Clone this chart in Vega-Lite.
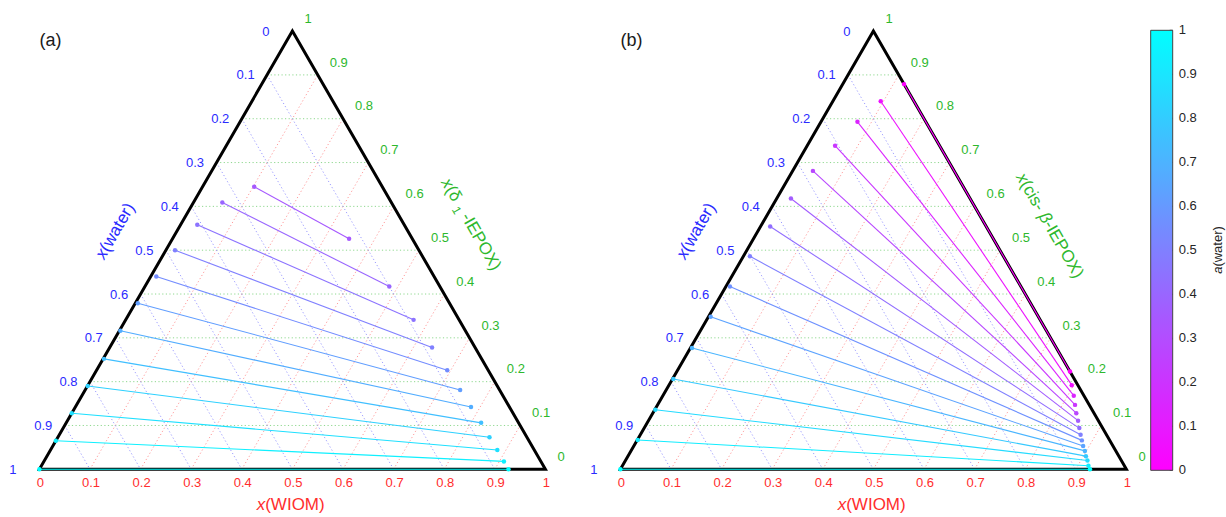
{
  "$schema": "https://vega.github.io/schema/vega-lite/v6.json",
  "width": 1226,
  "height": 517,
  "autosize": "none",
  "padding": 0,
  "background": "white",
  "config": {"view": {"stroke": null}, "text": {"font": "Liberation Sans"}},
  "resolve": {"legend": {"color": "independent"}},
  "datasets": {
    "ticks": [
      {"panel": "a", "k": 0}, {"panel": "a", "k": 0.1}, {"panel": "a", "k": 0.2}, {"panel": "a", "k": 0.3}, {"panel": "a", "k": 0.4}, {"panel": "a", "k": 0.5},
      {"panel": "a", "k": 0.6}, {"panel": "a", "k": 0.7}, {"panel": "a", "k": 0.8}, {"panel": "a", "k": 0.9}, {"panel": "a", "k": 1},
      {"panel": "b", "k": 0}, {"panel": "b", "k": 0.1}, {"panel": "b", "k": 0.2}, {"panel": "b", "k": 0.3}, {"panel": "b", "k": 0.4}, {"panel": "b", "k": 0.5},
      {"panel": "b", "k": 0.6}, {"panel": "b", "k": 0.7}, {"panel": "b", "k": 0.8}, {"panel": "b", "k": 0.9}, {"panel": "b", "k": 1}
    ],
    "panels": [{"panel": "a", "name": "(a)"}, {"panel": "b", "name": "(b)"}],
    "frame": [
      {"panel": "a", "o": 1, "wiom": 0, "epox": 0}, {"panel": "a", "o": 2, "wiom": 0, "epox": 1}, {"panel": "a", "o": 3, "wiom": 1, "epox": 0},
      {"panel": "a", "o": 4, "wiom": 0, "epox": 0}, {"panel": "a", "o": 5, "wiom": 0, "epox": 1},
      {"panel": "b", "o": 1, "wiom": 0, "epox": 0}, {"panel": "b", "o": 2, "wiom": 0, "epox": 1}, {"panel": "b", "o": 3, "wiom": 1, "epox": 0},
      {"panel": "b", "o": 4, "wiom": 0, "epox": 0}, {"panel": "b", "o": 5, "wiom": 0, "epox": 1}
    ],
    "ties": [
      {"panel": "a", "line": 1, "aw": 0.35, "wiom": 0.102, "epox": 0.645}, {"panel": "a", "line": 1, "aw": 0.35, "wiom": 0.349, "epox": 0.526},
      {"panel": "a", "line": 2, "aw": 0.4, "wiom": 0.057, "epox": 0.609}, {"panel": "a", "line": 2, "aw": 0.4, "wiom": 0.483, "epox": 0.417},
      {"panel": "a", "line": 3, "aw": 0.45, "wiom": 0.033, "epox": 0.558}, {"panel": "a", "line": 3, "aw": 0.45, "wiom": 0.569, "epox": 0.341},
      {"panel": "a", "line": 4, "aw": 0.5, "wiom": 0.018, "epox": 0.5}, {"panel": "a", "line": 4, "aw": 0.5, "wiom": 0.637, "epox": 0.278},
      {"panel": "a", "line": 5, "aw": 0.55, "wiom": 0.011, "epox": 0.44}, {"panel": "a", "line": 5, "aw": 0.55, "wiom": 0.693, "epox": 0.226},
      {"panel": "a", "line": 6, "aw": 0.62, "wiom": 0.005, "epox": 0.379}, {"panel": "a", "line": 6, "aw": 0.62, "wiom": 0.741, "epox": 0.181},
      {"panel": "a", "line": 7, "aw": 0.68, "wiom": 0.002, "epox": 0.316}, {"panel": "a", "line": 7, "aw": 0.68, "wiom": 0.782, "epox": 0.142},
      {"panel": "a", "line": 8, "aw": 0.75, "wiom": 0.0015, "epox": 0.252}, {"panel": "a", "line": 8, "aw": 0.75, "wiom": 0.82, "epox": 0.106},
      {"panel": "a", "line": 9, "aw": 0.82, "wiom": 0.0005, "epox": 0.19}, {"panel": "a", "line": 9, "aw": 0.82, "wiom": 0.853, "epox": 0.073},
      {"panel": "a", "line": 10, "aw": 0.88, "wiom": 0, "epox": 0.128}, {"panel": "a", "line": 10, "aw": 0.88, "wiom": 0.883, "epox": 0.044},
      {"panel": "a", "line": 11, "aw": 0.94, "wiom": 0, "epox": 0.065}, {"panel": "a", "line": 11, "aw": 0.94, "wiom": 0.909, "epox": 0.018},
      {"panel": "a", "line": 12, "aw": 1, "wiom": 0, "epox": 0}, {"panel": "a", "line": 12, "aw": 1, "wiom": 0.927, "epox": 0},
      {"panel": "b", "line": 1, "aw": 0, "wiom": 0.121, "epox": 0.879}, {"panel": "b", "line": 1, "aw": 0, "wiom": 0.777, "epox": 0.223},
      {"panel": "b", "line": 2, "aw": 0.07, "wiom": 0.0945, "epox": 0.84}, {"panel": "b", "line": 2, "aw": 0.07, "wiom": 0.796, "epox": 0.192},
      {"panel": "b", "line": 3, "aw": 0.14, "wiom": 0.072, "epox": 0.793}, {"panel": "b", "line": 3, "aw": 0.14, "wiom": 0.812, "epox": 0.168},
      {"panel": "b", "line": 4, "aw": 0.21, "wiom": 0.055, "epox": 0.7385}, {"panel": "b", "line": 4, "aw": 0.21, "wiom": 0.825, "epox": 0.147},
      {"panel": "b", "line": 5, "aw": 0.28, "wiom": 0.04, "epox": 0.681}, {"panel": "b", "line": 5, "aw": 0.28, "wiom": 0.837, "epox": 0.128},
      {"panel": "b", "line": 6, "aw": 0.36, "wiom": 0.028, "epox": 0.618}, {"panel": "b", "line": 6, "aw": 0.36, "wiom": 0.849, "epox": 0.111},
      {"panel": "b", "line": 7, "aw": 0.43, "wiom": 0.019, "epox": 0.554}, {"panel": "b", "line": 7, "aw": 0.43, "wiom": 0.86, "epox": 0.094},
      {"panel": "b", "line": 8, "aw": 0.5, "wiom": 0.013, "epox": 0.486}, {"panel": "b", "line": 8, "aw": 0.5, "wiom": 0.87, "epox": 0.079},
      {"panel": "b", "line": 9, "aw": 0.57, "wiom": 0.008, "epox": 0.417}, {"panel": "b", "line": 9, "aw": 0.57, "wiom": 0.879, "epox": 0.066},
      {"panel": "b", "line": 10, "aw": 0.64, "wiom": 0.0044, "epox": 0.348}, {"panel": "b", "line": 10, "aw": 0.64, "wiom": 0.888, "epox": 0.053},
      {"panel": "b", "line": 11, "aw": 0.71, "wiom": 0.003, "epox": 0.277}, {"panel": "b", "line": 11, "aw": 0.71, "wiom": 0.897, "epox": 0.042},
      {"panel": "b", "line": 12, "aw": 0.79, "wiom": 0.0015, "epox": 0.206}, {"panel": "b", "line": 12, "aw": 0.79, "wiom": 0.905, "epox": 0.03},
      {"panel": "b", "line": 13, "aw": 0.86, "wiom": 0.001, "epox": 0.136}, {"panel": "b", "line": 13, "aw": 0.86, "wiom": 0.913, "epox": 0.02},
      {"panel": "b", "line": 14, "aw": 0.93, "wiom": 0.0008, "epox": 0.067}, {"panel": "b", "line": 14, "aw": 0.93, "wiom": 0.921, "epox": 0.008},
      {"panel": "b", "line": 15, "aw": 1, "wiom": 0, "epox": 0}, {"panel": "b", "line": 15, "aw": 1, "wiom": 0.928, "epox": 0}
    ]
  },
  "encoding": {
    "x": {"field": "X", "type": "quantitative", "scale": {"domain": [-0.077866, 2.345059], "nice": false, "zero": false}, "axis": null},
    "y": {"field": "Y", "type": "quantitative", "scale": {"domain": [-0.094269, 0.92747], "nice": false, "zero": false}, "axis": null}
  },
  "layer": [
    {
      "data": {"name": "ticks"},
      "transform": [
        {"filter": "datum.k > 0 && datum.k < 1"},
        {"calculate": "datum.panel === 'b' ? 1.14822 : 0", "as": "off"},
        {"calculate": "datum.off + datum.k / 2", "as": "X"},
        {"calculate": "datum.off + 1 - datum.k / 2", "as": "X2"},
        {"calculate": "datum.k * 0.8660254", "as": "Y"}
      ],
      "mark": {"type": "rule", "stroke": "#8fd88f", "strokeWidth": 1, "strokeDash": [1.2, 2.4]},
      "encoding": {"x2": {"field": "X2"}, "y2": {"field": "Y"}}
    },
    {
      "data": {"name": "ticks"},
      "transform": [
        {"filter": "datum.k > 0 && datum.k < 1"},
        {"calculate": "datum.panel === 'b' ? 1.14822 : 0", "as": "off"},
        {"calculate": "datum.off + datum.k", "as": "X"},
        {"calculate": "0", "as": "Y"},
        {"calculate": "datum.off + datum.k + (1 - datum.k) / 2", "as": "X2"},
        {"calculate": "(1 - datum.k) * 0.8660254", "as": "Y2"}
      ],
      "mark": {"type": "rule", "stroke": "#ff9c9c", "strokeWidth": 1, "strokeDash": [1.2, 2.4]},
      "encoding": {"x2": {"field": "X2"}, "y2": {"field": "Y2"}}
    },
    {
      "data": {"name": "ticks"},
      "transform": [
        {"filter": "datum.k > 0 && datum.k < 1"},
        {"calculate": "datum.panel === 'b' ? 1.14822 : 0", "as": "off"},
        {"calculate": "datum.off + (1 - datum.k) / 2", "as": "X"},
        {"calculate": "(1 - datum.k) * 0.8660254", "as": "Y"},
        {"calculate": "datum.off + 1 - datum.k", "as": "X2"},
        {"calculate": "0", "as": "Y2"}
      ],
      "mark": {"type": "rule", "stroke": "#9c9cff", "strokeWidth": 1, "strokeDash": [1.2, 2.4]},
      "encoding": {"x2": {"field": "X2"}, "y2": {"field": "Y2"}}
    },
    {
      "data": {"name": "frame"},
      "transform": [
        {"calculate": "datum.panel === 'b' ? 1.14822 : 0", "as": "off"},
        {"calculate": "datum.off + datum.wiom + datum.epox / 2", "as": "X"},
        {"calculate": "datum.epox * 0.8660254", "as": "Y"}
      ],
      "mark": {"type": "line", "color": "black", "strokeWidth": 3, "strokeJoin": "miter", "strokeCap": "butt"},
      "encoding": {"detail": {"field": "panel"}, "order": {"field": "o", "type": "quantitative"}}
    },
    {
      "data": {"name": "ties"},
      "transform": [
        {"calculate": "datum.panel === 'b' ? 1.14822 : 0", "as": "off"},
        {"calculate": "datum.off + datum.wiom + datum.epox / 2", "as": "X"},
        {"calculate": "datum.epox * 0.8660254", "as": "Y"}
      ],
      "mark": {"type": "line", "strokeWidth": 1.1},
      "encoding": {
        "detail": [{"field": "panel"}, {"field": "line"}],
        "color": {
          "field": "aw", "type": "quantitative",
          "scale": {"domain": [0, 1], "range": ["#ff00ff", "#00ffff"], "interpolate": "rgb"},
          "legend": {
            "type": "gradient",
            "orient": "none", "legendX": 1150.7, "legendY": 30.3, "direction": "vertical",
            "gradientLength": 440, "gradientThickness": 22, "title": null,
            "values": [0, 0.1, 0.2, 0.3, 0.4, 0.5, 0.6, 0.7, 0.8, 0.9, 1], "format": "~g",
            "labelFontSize": 13, "labelFont": "Liberation Sans", "labelColor": "#262626", "labelOffset": 6,
            "gradientStrokeColor": "#444444", "gradientStrokeWidth": 1, "padding": 0,
            "encode": {"labels": {"update": {"baseline": {"value": "middle"}}}}
          }
        }
      }
    },
    {
      "data": {"name": "ties"},
      "transform": [
        {"calculate": "datum.panel === 'b' ? 1.14822 : 0", "as": "off"},
        {"calculate": "datum.off + datum.wiom + datum.epox / 2", "as": "X"},
        {"calculate": "datum.epox * 0.8660254", "as": "Y"}
      ],
      "mark": {"type": "circle", "size": 20, "opacity": 1},
      "encoding": {
        "color": {
          "field": "aw", "type": "quantitative",
          "scale": {"domain": [0, 1], "range": ["#ff00ff", "#00ffff"], "interpolate": "rgb"},
          "legend": null
        }
      }
    },
    {
      "data": {"name": "ticks"},
      "transform": [
        {"filter": "datum.panel === 'a'"},
        {"calculate": "2.23379", "as": "X"},
        {"calculate": "2.23992", "as": "X2"},
        {"calculate": "(440 * datum.k - 1) / 506", "as": "Y"}
      ],
      "mark": {"type": "rule", "stroke": "#444444", "strokeWidth": 1},
      "encoding": {"x2": {"field": "X2"}, "y2": {"field": "Y"}}
    },
    {
      "data": {"name": "ticks"},
      "transform": [
        {"calculate": "datum.panel === 'b' ? 1.14822 : 0", "as": "off"},
        {"calculate": "datum.off + datum.k", "as": "X"},
        {"calculate": "0", "as": "Y"}
      ],
      "mark": {"type": "text", "align": "center", "baseline": "middle", "dx": 1, "dy": 14, "fontSize": 13, "color": "#ff2d2d"},
      "encoding": {"text": {"field": "k", "type": "quantitative", "format": "~g"}}
    },
    {
      "data": {"name": "ticks"},
      "transform": [
        {"filter": "datum.k > 0 && datum.k < 1"},
        {"calculate": "datum.panel === 'b' ? 1.14822 : 0", "as": "off"},
        {"calculate": "datum.off + (1 - datum.k) / 2", "as": "X"},
        {"calculate": "(1 - datum.k) * 0.8660254", "as": "Y"}
      ],
      "mark": {"type": "text", "align": "center", "baseline": "middle", "dx": -21.5, "dy": 0.5, "fontSize": 13, "color": "#2a2aff"},
      "encoding": {"text": {"field": "k", "type": "quantitative", "format": "~g"}}
    },
    {
      "data": {"name": "ticks"},
      "transform": [
        {"filter": "datum.k === 0 || datum.k === 1"},
        {"calculate": "datum.panel === 'b' ? 1.14822 : 0", "as": "off"},
        {"calculate": "datum.off + (1 - datum.k) / 2", "as": "X"},
        {"calculate": "(1 - datum.k) * 0.8660254", "as": "Y"}
      ],
      "mark": {"type": "text", "align": "center", "baseline": "middle", "dx": -26.5, "dy": 0.5, "fontSize": 13, "color": "#2a2aff"},
      "encoding": {"text": {"field": "k", "type": "quantitative", "format": "~g"}}
    },
    {
      "data": {"name": "ticks"},
      "transform": [
        {"calculate": "datum.panel === 'b' ? 1.14822 : 0", "as": "off"},
        {"calculate": "datum.off + 1 - datum.k / 2", "as": "X"},
        {"calculate": "datum.k * 0.8660254", "as": "Y"}
      ],
      "mark": {"type": "text", "align": "left", "baseline": "middle", "dx": 12, "dy": -12.3, "fontSize": 13, "color": "#2db82d"},
      "encoding": {"text": {"field": "k", "type": "quantitative", "format": "~g"}}
    },
    {
      "data": {"name": "panels"},
      "transform": [
        {"calculate": "datum.panel === 'b' ? 1.14822 : 0", "as": "off"},
        {"calculate": "datum.off", "as": "X"},
        {"calculate": "0.8660254", "as": "Y"}
      ],
      "mark": {"type": "text", "align": "left", "baseline": "middle", "dy": 9.6, "fontSize": 18, "color": "#1a1a1a"},
      "encoding": {"text": {"field": "name"}}
    },
    {
      "data": {"name": "panels"},
      "transform": [
        {"calculate": "datum.panel === 'b' ? 1.14822 : 0", "as": "off"},
        {"calculate": "datum.off + 0.5", "as": "X"},
        {"calculate": "0", "as": "Y"}
      ],
      "mark": {"type": "text", "text": "x", "fontStyle": "italic", "align": "right", "baseline": "middle", "dx": -27.2, "dy": 35.7, "fontSize": 17, "color": "#ff2d2d"}
    },
    {
      "data": {"name": "panels"},
      "transform": [
        {"calculate": "datum.panel === 'b' ? 1.14822 : 0", "as": "off"},
        {"calculate": "datum.off + 0.5", "as": "X"},
        {"calculate": "0", "as": "Y"}
      ],
      "mark": {"type": "text", "text": "(WIOM)", "align": "left", "baseline": "middle", "dx": -27.2, "dy": 35.7, "fontSize": 17, "color": "#ff2d2d"}
    },
    {
      "data": {"name": "panels"},
      "transform": [
        {"calculate": "datum.panel === 'b' ? 1.14822 : 0", "as": "off"},
        {"calculate": "datum.off + 0.25", "as": "X"},
        {"calculate": "0.4330127", "as": "Y"}
      ],
      "mark": {"type": "text", "text": "x", "fontStyle": "italic", "angle": 300, "align": "right", "baseline": "middle", "dx": -31, "dy": -53.3, "fontSize": 17, "color": "#2a2aff"}
    },
    {
      "data": {"name": "panels"},
      "transform": [
        {"calculate": "datum.panel === 'b' ? 1.14822 : 0", "as": "off"},
        {"calculate": "datum.off + 0.25", "as": "X"},
        {"calculate": "0.4330127", "as": "Y"}
      ],
      "mark": {"type": "text", "text": "(water)", "angle": 300, "align": "left", "baseline": "middle", "dx": -31, "dy": -53.3, "fontSize": 17, "color": "#2a2aff"}
    },
    {
      "data": {"values": [{"panel": "a"}]},
      "transform": [
        {"calculate": "0.75", "as": "X"},
        {"calculate": "0.4330127", "as": "Y"}
      ],
      "mark": {"type": "text", "text": "x", "fontStyle": "italic", "angle": 60, "align": "right", "baseline": "middle", "dx": -39.3, "dy": -57.9, "fontSize": 17, "color": "#2db82d"}
    },
    {
      "data": {"values": [{"panel": "a"}]},
      "transform": [
        {"calculate": "0.75", "as": "X"},
        {"calculate": "0.4330127", "as": "Y"}
      ],
      "mark": {"type": "text", "text": "(δ", "angle": 60, "align": "left", "baseline": "middle", "dx": -39.3, "dy": -57.9, "fontSize": 17, "color": "#2db82d"}
    },
    {
      "data": {"values": [{"panel": "a"}]},
      "transform": [
        {"calculate": "0.75", "as": "X"},
        {"calculate": "0.4330127", "as": "Y"}
      ],
      "mark": {"type": "text", "text": "1", "angle": 60, "align": "left", "baseline": "middle", "dx": -19, "dy": -52.5, "fontSize": 12, "color": "#2db82d"}
    },
    {
      "data": {"values": [{"panel": "a"}]},
      "transform": [
        {"calculate": "0.75", "as": "X"},
        {"calculate": "0.4330127", "as": "Y"}
      ],
      "mark": {"type": "text", "text": "-IEPOX)", "angle": 60, "align": "left", "baseline": "middle", "dx": -8, "dy": -57.9, "fontSize": 17, "color": "#2db82d"}
    },
    {
      "data": {"values": [{"panel": "b"}]},
      "transform": [
        {"calculate": "1.14822 + 0.75", "as": "X"},
        {"calculate": "0.4330127", "as": "Y"}
      ],
      "mark": {"type": "text", "text": "x", "fontStyle": "italic", "angle": 60, "align": "right", "baseline": "middle", "dx": -47.1, "dy": -55.3, "fontSize": 17, "color": "#2db82d"}
    },
    {
      "data": {"values": [{"panel": "b"}]},
      "transform": [
        {"calculate": "1.14822 + 0.75", "as": "X"},
        {"calculate": "0.4330127", "as": "Y"}
      ],
      "mark": {"type": "text", "text": "(cis-", "angle": 60, "align": "left", "baseline": "middle", "dx": -47.1, "dy": -55.3, "fontSize": 17, "color": "#2db82d"}
    },
    {
      "data": {"values": [{"panel": "b"}]},
      "transform": [
        {"calculate": "1.14822 + 0.75", "as": "X"},
        {"calculate": "0.4330127", "as": "Y"}
      ],
      "mark": {"type": "text", "text": "β", "fontStyle": "italic", "angle": 60, "align": "left", "baseline": "middle", "dx": -10.3, "dy": -55.3, "fontSize": 17, "color": "#2db82d"}
    },
    {
      "data": {"values": [{"panel": "b"}]},
      "transform": [
        {"calculate": "1.14822 + 0.75", "as": "X"},
        {"calculate": "0.4330127", "as": "Y"}
      ],
      "mark": {"type": "text", "text": "-IEPOX)", "angle": 60, "align": "left", "baseline": "middle", "dx": -0.6, "dy": -55.3, "fontSize": 17, "color": "#2db82d"}
    },
    {
      "data": {"values": [{"label": "a(water)"}]},
      "transform": [
        {"calculate": "2.32984", "as": "X"},
        {"calculate": "0.40059", "as": "Y"}
      ],
      "mark": {"type": "text", "text": "a", "fontStyle": "italic", "angle": 270, "align": "right", "baseline": "middle", "fontSize": 13, "color": "#262626"}
    },
    {
      "data": {"values": [{"label": "a(water)"}]},
      "transform": [
        {"calculate": "2.32984", "as": "X"},
        {"calculate": "0.40059", "as": "Y"}
      ],
      "mark": {"type": "text", "text": "(water)", "angle": 270, "align": "left", "baseline": "middle", "fontSize": 13, "color": "#262626"}
    }
  ]
}
